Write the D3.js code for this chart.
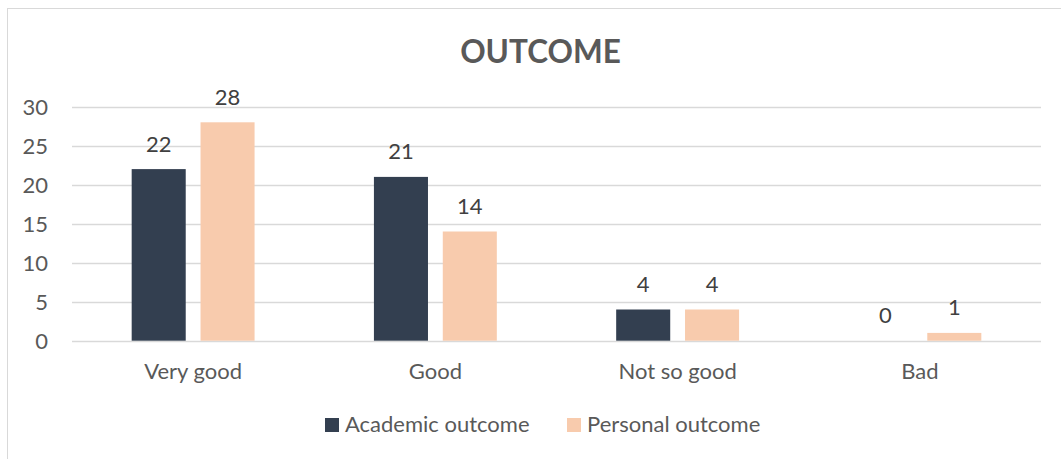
<!DOCTYPE html>
<html><head><meta charset="utf-8">
<script src="https://cdn.jsdelivr.net/npm/d3@7"></script>
<style>body{margin:0;background:#fff;}svg{display:block;}</style>
</head><body>
<svg id="c" width="1061" height="459"></svg>
<script>
const categories = ["Very good", "Good", "Not so good", "Bad"];
const seriesNames = ["Academic outcome", "Personal outcome"];
const academic = [22, 21, 4, 0];
const personal = [28, 14, 4, 1];
const yTicks = [0, 5, 10, 15, 20, 25, 30];
const colors = ["#333F50", "#F8CBAD"];

const svg = d3.select("#c");
const FONT = "Lato, 'Open Sans', sans-serif";

// chart border
svg.append("rect").attr("x", 7.5).attr("y", 8.5).attr("width", 1100).attr("height", 500)
  .attr("fill", "#fff").attr("stroke", "#D9D9D9").attr("stroke-width", 1);

svg.append("text").attr("x", 540.5).attr("y", 63).attr("text-anchor", "middle")
  .attr("font-family", FONT).attr("font-weight", "bold").attr("font-size", 31.5)
  .attr("fill", "#595959").text("OUTCOME");

const x0 = d3.scaleBand().domain(categories).range([72, 1041]);
const y = d3.scaleLinear().domain([0, 30]).range([340.7, 106.7]);

// gridlines
svg.append("g").selectAll("line").data(yTicks).join("line")
  .attr("x1", 72).attr("x2", 1041)
  .attr("y1", d => Math.round(y(d)) + 0.5).attr("y2", d => Math.round(y(d)) + 0.5)
  .attr("stroke", "#D9D9D9").attr("stroke-width", 1.5);

// y axis labels
const yAxis = d3.axisLeft(y).tickValues(yTicks).tickSize(0).tickPadding(0);
const ya = svg.append("g").attr("transform", "translate(48,0)").call(yAxis);
ya.select(".domain").remove();
ya.selectAll("text").attr("font-family", FONT).attr("font-size", 22).attr("fill", "#595959")
  .attr("dy", "0.36em");

// x axis labels
const xAxis = d3.axisBottom(x0).tickSize(0).tickPadding(0);
const xa = svg.append("g").attr("transform", "translate(0,379)").call(xAxis);
xa.select(".domain").remove();
xa.selectAll("text").attr("font-family", FONT).attr("font-size", 22).attr("fill", "#595959")
  .attr("dy", 0);

const data = categories.map((c, i) => ({cat: c, vals: [academic[i], personal[i]]}));
const x1 = d3.scaleBand().domain([0, 1]).range([0, 122.9]).paddingInner(0.215);
const barW = x1.bandwidth();

const groups = svg.append("g").selectAll("g").data(data).join("g")
  .attr("transform", d => `translate(${x0(d.cat) + x0.bandwidth()/2 - 61.45},0)`);

groups.selectAll("rect").data(d => d.vals.map((v, j) => ({v, j}))).join("rect")
  .attr("x", d => x1(d.j)).attr("width", barW)
  .attr("y", d => y(d.v)).attr("height", d => y(0) - y(d.v))
  .attr("fill", d => colors[d.j]);

groups.selectAll("text").data(d => d.vals.map((v, j) => ({v, j}))).join("text")
  .attr("x", d => x1(d.j) + barW/2).attr("y", d => y(d.v) - 17.5)
  .attr("text-anchor", "middle").attr("font-family", FONT).attr("font-size", 22)
  .attr("fill", "#404040").text(d => d.v);

// legend
const legX = [325, 567];
const leg = svg.append("g").selectAll("g").data(seriesNames).join("g")
  .attr("transform", (d, i) => `translate(${legX[i]},0)`);
leg.append("rect").attr("x", 0).attr("y", 418).attr("width", 14).attr("height", 14)
  .attr("fill", (d, i) => colors[i]);
leg.append("text").attr("x", 20).attr("y", 432).attr("font-family", FONT).attr("font-size", 22)
  .attr("fill", "#595959").text(d => d);
</script>
</body></html>
